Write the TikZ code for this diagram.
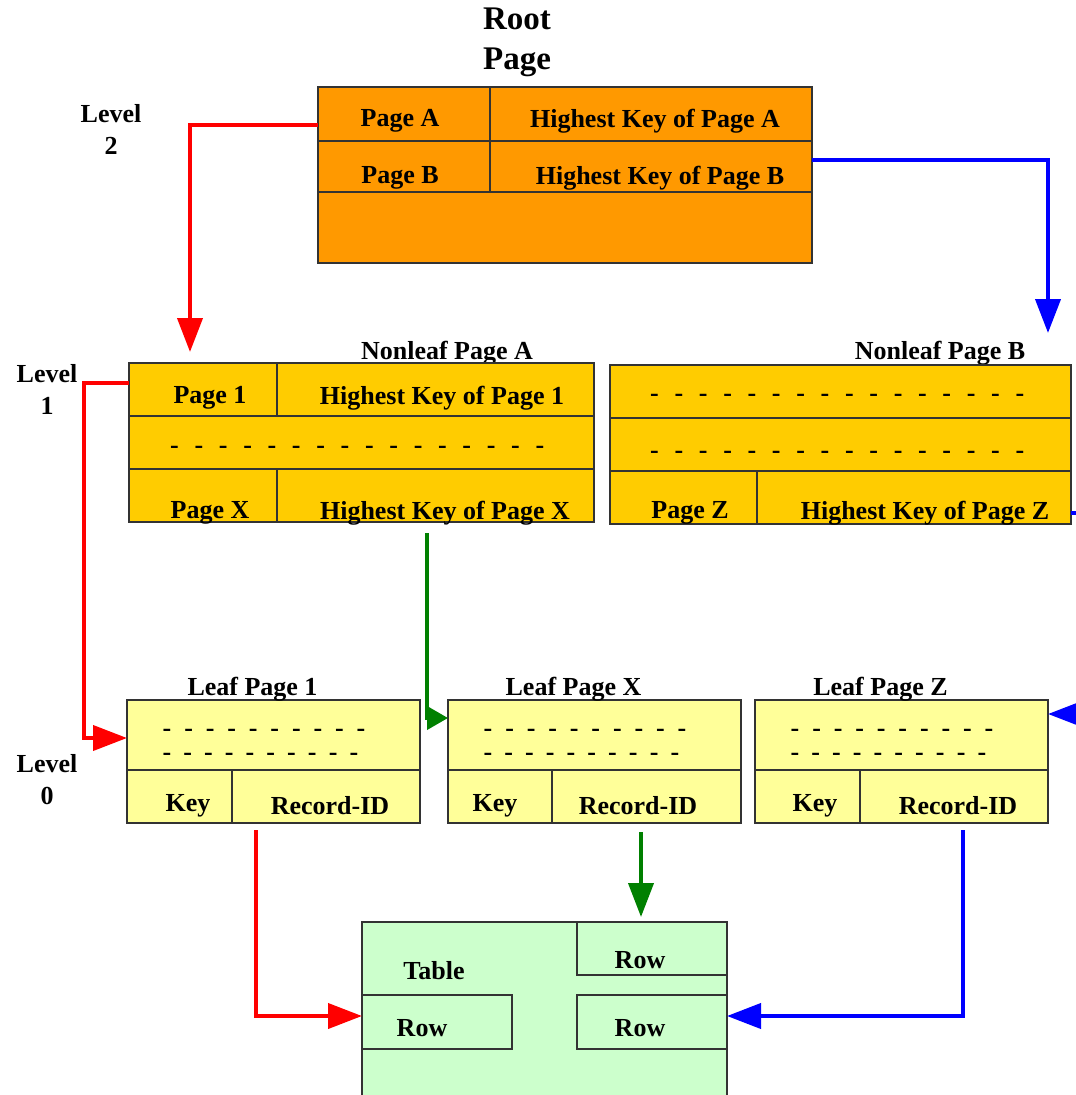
\documentclass[tikz,border=0pt]{standalone}
\usepackage{fontspec}
\setmainfont{Liberation Serif}
\usetikzlibrary{arrows.meta}

\definecolor{rootorange}{HTML}{FF9900}
\definecolor{nonleafgold}{HTML}{FFCC00}
\definecolor{leafyellow}{HTML}{FFFF99}
\definecolor{tablegreen}{HTML}{CCFFCC}
\definecolor{linkred}{HTML}{FF0000}
\definecolor{linkblue}{HTML}{0000FF}
\definecolor{linkgreen}{HTML}{008000}
\definecolor{edgegray}{HTML}{333333}

% a run of #1 hyphens separated by #2 of space
\newcommand\dashrun[2]{-\foreach \i in {2,...,#1}{\hspace{#2}-}}

\begin{document}
\begin{tikzpicture}[x=1pt,y=-1pt,
  page/.style={draw=edgegray, line width=1.8pt, inner sep=0pt, outer sep=0pt},
  cellrule/.style={draw=edgegray, line width=1.5pt},
  txt/.style={inner sep=0pt, yshift=-3pt, font=\fontsize{26}{28}\selectfont\bfseries},
  lbl/.style={inner sep=0pt, align=center, font=\fontsize{26}{32}\selectfont\bfseries},
  dashtxt/.style={inner sep=0pt, anchor=west, font=\fontsize{26}{28}\selectfont\bfseries},
  link/.style={line width=4pt, -{Triangle[length=34pt,width=25pt]}},
  shortlink/.style={line width=4pt, -{Triangle[length=21pt,width=23pt]}},
]
\useasboundingbox (0,0) rectangle (1076,1095);
\clip (0,0) rectangle (1076,1095);

% ---------- level labels ----------
\node[lbl] (lv2) at (111,129) {Level\\2};
\node[lbl] (lv1) at (47,389) {Level\\1};
\node[lbl] (lv0) at (47,780) {Level\\0};

% ---------- root page ----------
\node[inner sep=0pt, align=center, font=\fontsize{33}{40}\selectfont\bfseries] (roottitle) at (517,42) {Root\\Page};
\node[page, fill=rootorange, minimum width=494pt, minimum height=176pt] (root) at (565,175) {};
\draw[cellrule] (root.west |- 0,141) -- (root.east |- 0,141);
\draw[cellrule] (root.west |- 0,192) -- (root.east |- 0,192);
\draw[cellrule] (root.north -| 490,0) -- (490,192);
\node[txt] (rA) at (400,118) {Page A};
\node[txt] (rAkey) at (655,118) {Highest Key of Page A};
\node[txt] (rB) at (400,175) {Page B};
\node[txt] (rBkey) at (660,175) {Highest Key of Page B};

% ---------- nonleaf page A ----------
\node[txt] (nlatitle) at (447,350) {Nonleaf Page A};
\node[page, fill=nonleafgold, minimum width=465pt, minimum height=159pt] (nla) at (361.5,442.5) {};
\draw[cellrule] (nla.west |- 0,416) -- (nla.east |- 0,416);
\draw[cellrule] (nla.west |- 0,469) -- (nla.east |- 0,469);
\draw[cellrule] (nla.north -| 277,0) -- (277,416);
\draw[cellrule] (277,469) -- (nla.south -| 277,0);
\node[txt] (nla1) at (210,395) {Page 1};
\node[txt] (nla1key) at (442,395) {Highest Key of Page 1};
\node[dashtxt] (nladash) at (170,450) {\dashrun{16}{15.7pt}};
\node[txt] (nlaX) at (210,510) {Page X};
\node[txt] (nlaXkey) at (445,510) {Highest Key of Page X};

% ---------- nonleaf page B ----------
\node[txt] (nlbtitle) at (940,350) {Nonleaf Page B};
\node[page, fill=nonleafgold, minimum width=461pt, minimum height=159pt] (nlb) at (840.5,444.5) {};
\draw[cellrule] (nlb.west |- 0,418) -- (nlb.east |- 0,418);
\draw[cellrule] (nlb.west |- 0,471) -- (nlb.east |- 0,471);
\draw[cellrule] (757,471) -- (nlb.south -| 757,0);
\node[dashtxt] (nlbdash1) at (650,398) {\dashrun{16}{15.7pt}};
\node[dashtxt] (nlbdash2) at (650,455) {\dashrun{16}{15.7pt}};
\node[txt] (nlbZ) at (690,510) {Page Z};
\node[txt] (nlbZkey) at (925,510) {Highest Key of Page Z};

% ---------- leaf pages ----------
\foreach \nm/\cx/\dv/\ttl/\kx/\rx in
  {leaf1/273.5/232/Leaf Page 1/188/330,
   leafX/594.5/552/Leaf Page X/495/638,
   leafZ/901.5/860/Leaf Page Z/815/958}{
  \node[page, fill=leafyellow, minimum width=293pt, minimum height=123pt] (\nm) at (\cx,761.5) {};
  \node[txt] (\nm title) at (\cx-21,686) {\ttl};
  \draw[cellrule] (\nm.west |- 0,770) -- (\nm.east |- 0,770);
  \draw[cellrule] (\dv,770) -- (\nm.south -| \dv,0);
  \node[dashtxt] (\nm dashA) at (\cx-111,733) {\dashrun{10}{12.9pt}};
  \node[dashtxt] (\nm dashB) at (\cx-111,757) {\dashrun{10}{12.1pt}};
  \node[txt] (\nm key) at (\kx,803) {Key};
  \node[txt] (\nm rid) at (\rx,803) {Record-ID};
}

% ---------- table ----------
\node[page, fill=tablegreen, minimum width=365pt, minimum height=188pt] (tbl) at (544.5,1016) {};
\node[page, minimum width=150pt, minimum height=53pt] (rowTR) at (652,948.5) {};
\node[page, minimum width=150pt, minimum height=54pt] (rowL) at (437,1022) {};
\node[page, minimum width=150pt, minimum height=54pt] (rowR) at (652,1022) {};
\node[txt] (tbltitle) at (434,968) {Table};
\node[txt] (rowTRtxt) at (640,957) {Row};
\node[txt] (rowLtxt) at (422,1025) {Row};
\node[txt] (rowRtxt) at (640,1025) {Row};

% ---------- pointers ----------
\draw[link, linkred] (root.west |- 0,125) -| ([yshift=11pt]nla.north -| 190,0);
\draw[link, linkblue] (root.east |- 0,160) -| ([yshift=32pt]nlb.north -| 1048,0);
\draw[link, linkred] (nla.west |- 0,383) -- ++(-45,0) |- (leaf1.west |- 0,738);
\draw[shortlink, linkgreen] ([yshift=-11pt]nla.south -| 427,0) |- (leafX.west |- 0,718);
\draw[link, linkblue] (nlb.east |- 0,513) -- (1100,513) |- (leafZ.east |- 0,714);
\draw[link, linkred] ([yshift=-7pt]leaf1.south -| 256,0) |- (tbl.west);
\draw[link, linkgreen] ([yshift=-9pt]leafX.south -| 641,0) -- ([yshift=5pt]tbl.north -| 641,0);
\draw[link, linkblue] ([yshift=-7pt]leafZ.south -| 963,0) |- (tbl.east);
\end{tikzpicture}
\end{document}
